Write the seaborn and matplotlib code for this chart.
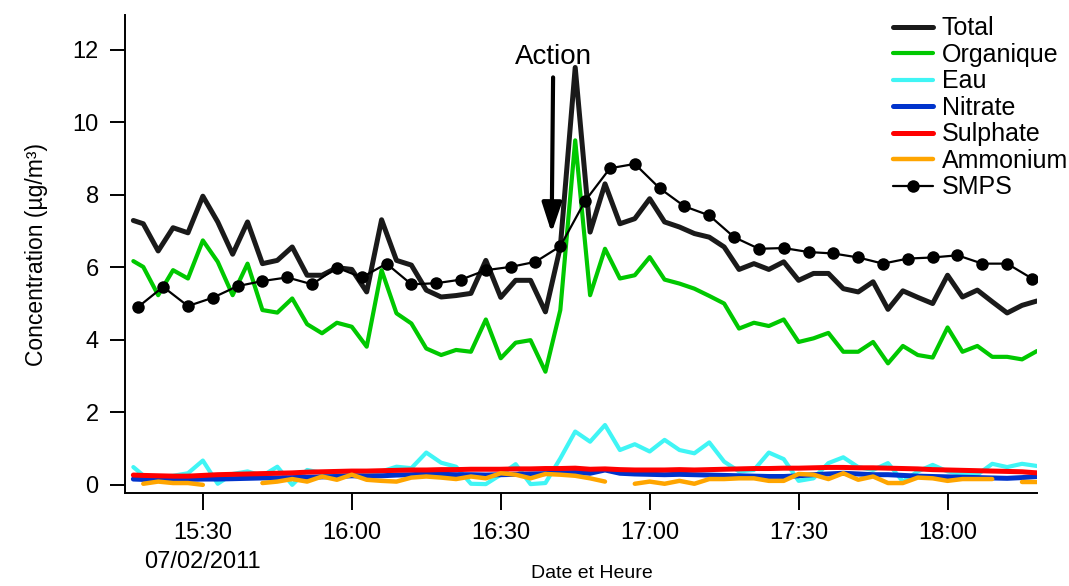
import matplotlib
matplotlib.use('Agg')
import matplotlib.pyplot as plt
import seaborn as sns
import numpy as np
import pandas as pd

## data
# AMS time base (first point at 15:16, then every 3 min)
ams_time = pd.to_datetime(['2011-02-07 15:16']).append(
    pd.date_range('2011-02-07 15:18', periods=61, freq='3min'))
# SMPS time base (every 5 min)
smps_time = pd.date_range('2011-02-07 15:17', periods=37, freq='5min')

total = [7.29, 7.20, 6.45, 7.09, 6.95, 7.96, 7.25, 6.36, 7.25, 6.10, 6.19,
         6.56, 5.78, 5.78, 5.99, 5.94, 5.32, 7.31, 6.19, 6.06, 5.37,
         5.18, 5.22, 5.28, 6.19, 5.17, 5.64, 5.64, 4.77, 6.56, 11.51,
         6.97, 8.30, 7.20, 7.34, 7.89, 7.25, 7.11, 6.93, 6.83, 6.56,
         5.94, 6.10, 5.94, 6.15, 5.64, 5.83, 5.83, 5.41, 5.32, 5.60,
         4.84, 5.35, 5.17, 5.00, 5.78, 5.18, 5.37, 5.05, 4.74, 4.95, 5.07]

organique = [6.17, 6.01, 5.23, 5.92, 5.69, 6.74, 6.15, 5.23, 6.10, 4.82, 4.75,
             5.14, 4.43, 4.18, 4.47, 4.36, 3.81, 5.92, 4.73, 4.45, 3.76,
             3.58, 3.72, 3.67, 4.56, 3.49, 3.92, 3.99, 3.12, 4.82, 9.50,
             5.23, 6.51, 5.69, 5.78, 6.28, 5.66, 5.55, 5.41, 5.21, 5.00,
             4.31, 4.47, 4.38, 4.56, 3.94, 4.04, 4.19, 3.67, 3.67, 3.94,
             3.35, 3.83, 3.58, 3.51, 4.34, 3.67, 3.83, 3.53, 3.53, 3.46, 3.69]

eau = [0.49, 0.26, 0.22, 0.25, 0.32, 0.67, 0.03, 0.30, 0.37, 0.25, 0.50,
       0.00, 0.41, 0.33, 0.30, 0.30, 0.32, 0.37, 0.50, 0.46, 0.89,
       0.61, 0.50, 0.03, 0.02, 0.28, 0.57, 0.02, 0.05, 0.73, 1.47,
       1.19, 1.65, 0.96, 1.12, 0.92, 1.24, 0.96, 0.87, 1.17, 0.64,
       0.37, 0.41, 0.89, 0.71, 0.11, 0.18, 0.60, 0.76, 0.49, 0.41,
       0.60, 0.09, 0.37, 0.55, 0.37, 0.30, 0.28, 0.58, 0.49, 0.58, 0.52]

nitrate = [0.16, 0.15, 0.15, 0.14, 0.15, 0.16, 0.16, 0.17, 0.18, 0.19, 0.19,
           0.20, 0.21, 0.22, 0.23, 0.25, 0.24, 0.25, 0.27, 0.28, 0.30,
           0.29, 0.28, 0.28, 0.27, 0.28, 0.29, 0.30, 0.31, 0.33, 0.34,
           0.32, 0.41, 0.32, 0.30, 0.29, 0.28, 0.29, 0.28, 0.27, 0.26,
           0.25, 0.24, 0.23, 0.23, 0.25, 0.28, 0.30, 0.32, 0.30, 0.28,
           0.28, 0.26, 0.24, 0.23, 0.22, 0.21, 0.20, 0.19, 0.18, 0.20, 0.23]

sulphate = [0.27, 0.26, 0.25, 0.24, 0.24, 0.26, 0.28, 0.29, 0.30, 0.31, 0.32,
            0.33, 0.35, 0.36, 0.37, 0.38, 0.38, 0.39, 0.40, 0.41, 0.41,
            0.42, 0.42, 0.43, 0.43, 0.43, 0.44, 0.44, 0.45, 0.45, 0.46,
            0.43, 0.44, 0.42, 0.41, 0.41, 0.41, 0.42, 0.41, 0.42, 0.43,
            0.44, 0.45, 0.45, 0.46, 0.46, 0.47, 0.48, 0.48, 0.47, 0.47,
            0.46, 0.45, 0.44, 0.42, 0.41, 0.40, 0.39, 0.38, 0.37, 0.36, 0.33]

ammonium = [np.nan, 0.03, 0.09, 0.05, 0.05, 0.00, np.nan, np.nan, np.nan, 0.05, 0.09,
            0.16, 0.09, 0.23, 0.14, 0.28, 0.14, 0.11, 0.09, 0.20, 0.23,
            0.20, 0.16, 0.23, 0.18, 0.32, 0.28, 0.18, 0.30, 0.28, 0.25,
            0.18, 0.09, np.nan, 0.03, 0.09, 0.03, 0.11, 0.03, 0.16, 0.16,
            0.18, 0.18, 0.11, 0.11, 0.30, 0.28, 0.16, 0.32, 0.14, 0.23,
            0.05, 0.05, 0.20, 0.18, 0.11, 0.16, 0.16, 0.16, np.nan, 0.09, 0.09]

smps = [4.91, 5.46, 4.93, 5.16, 5.48, 5.62, 5.72, 5.53, 5.99, 5.72, 6.10,
        5.53, 5.56, 5.66, 5.92, 6.01, 6.15, 6.58, 7.83, 8.73, 8.85, 8.18,
        7.68, 7.43, 6.83, 6.51, 6.53, 6.42, 6.38, 6.27, 6.10, 6.24, 6.27,
        6.33, 6.10, 6.10, 5.69]

tick_times = pd.to_datetime(['2011-02-07 15:30', '2011-02-07 16:00', '2011-02-07 16:30',
                             '2011-02-07 17:00', '2011-02-07 17:30', '2011-02-07 18:00'])
tick_labels = ['15:30\n07/02/2011', '16:00', '16:30', '17:00', '17:30', '18:00']
action_time = pd.Timestamp('2011-02-07 16:40:15')

## style
sns.set_style('ticks')
plt.rcParams['font.family'] = ['Liberation Sans', 'DejaVu Sans']
plt.rcParams['text.color'] = 'black'
plt.rcParams['axes.labelcolor'] = 'black'
plt.rcParams['xtick.color'] = 'black'
plt.rcParams['ytick.color'] = 'black'

fig = plt.figure(figsize=(10.69, 5.86), dpi=100)
ax = fig.add_axes([0.117, 0.159, 0.853, 0.815])

sns.lineplot(x=ams_time, y=total, color='#1a1a1a', lw=3.6, label='Total', ax=ax)
sns.lineplot(x=ams_time, y=organique, color='#00c800', lw=3.0, label='Organique', ax=ax)
sns.lineplot(x=ams_time, y=eau, color='#40f5f5', lw=3.0, label='Eau', ax=ax)
sns.lineplot(x=ams_time, y=nitrate, color='#0033cc', lw=3.6, label='Nitrate', ax=ax)
sns.lineplot(x=ams_time, y=sulphate, color='#ff0000', lw=3.6, label='Sulphate', ax=ax)

# ammonium has missing points -> draw each piece as its own unit so the line breaks
amm = pd.DataFrame({'t': ams_time, 'v': ammonium})
amm['seg'] = amm['v'].isna().cumsum()
amm = amm.dropna()
sns.lineplot(data=amm, x='t', y='v', units='seg', estimator=None,
             color='#ffa500', lw=3.2, label='Ammonium', ax=ax)

sns.lineplot(x=smps_time, y=smps, color='black', lw=1.6, marker='o', markersize=9,
             markeredgewidth=0, label='SMPS', ax=ax)

ax.annotate('Action', xy=(action_time, 6.95),
            xytext=(action_time + pd.Timedelta('20s'), 11.8),
            ha='center', va='center', fontsize=20,
            arrowprops=dict(arrowstyle='-|>,head_length=0.9,head_width=0.3',
                            lw=3, color='black', shrinkA=3, shrinkB=0))

ax.set_xlim(pd.Timestamp('2011-02-07 15:14:20'), ams_time[-1])
ax.set_ylim(-0.22, 12.95)
ax.set_xticks(tick_times)
ax.set_xticklabels(tick_labels, linespacing=1.4)
ax.set_yticks([0, 2, 4, 6, 8, 10, 12])
ax.tick_params(axis='x', length=12, width=1.4, pad=9, labelsize=17)
ax.tick_params(axis='y', length=11, width=1.4, pad=8, labelsize=17)
for s in ['left', 'bottom']:
    ax.spines[s].set_linewidth(1.4)
    ax.spines[s].set_color('black')
sns.despine(ax=ax)

ax.set_xlabel('Date et Heure', fontsize=14)
ax.set_ylabel('Concentration (µg/m³)', fontsize=16.5)
ax.xaxis.set_label_coords(0.512, -0.152)
ax.yaxis.set_label_coords(-0.085, 0.5)

# legend (drop duplicated ammonium pieces)
handles, labels = ax.get_legend_handles_labels()
uniq = dict(zip(labels, handles))
ax.legend(list(uniq.values()), list(uniq.keys()), loc='upper right',
          bbox_to_anchor=(0.999, 0.972), bbox_transform=fig.transFigure,
          frameon=False, fontsize=18, handlelength=1.6, handletextpad=0.36,
          labelspacing=0.1, borderpad=0, borderaxespad=0)

fig.savefig('out.png', dpi=100)
